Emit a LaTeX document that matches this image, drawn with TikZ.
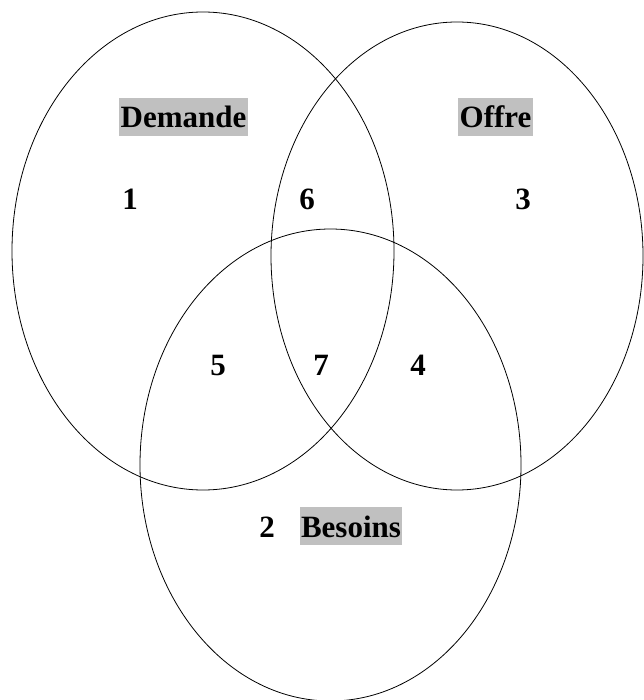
\documentclass[tikz,border=0pt]{standalone}
\usepackage{fontspec}
\setmainfont{Liberation Serif}
\definecolor{labelgray}{HTML}{C0C0C0}
\begin{document}
\begin{tikzpicture}[x=1pt,y=-1pt,
  setline/.style={draw=black,line width=0.8pt},
  setlabel/.style={fill=labelgray,inner xsep=1.5pt,inner ysep=2pt,text height=28pt,text depth=6pt,anchor=base,font=\fontsize{31}{37}\selectfont\bfseries},
  region/.style={inner sep=0pt,anchor=base,font=\fontsize{31}{37}\selectfont\bfseries}]
\useasboundingbox (0,0) rectangle (643,700);
\fill[white] (0,0) rectangle (643,700);
% sets
\draw[setline] (203,251) ellipse [x radius=191, y radius=239];
\draw[setline] (457,256) ellipse [x radius=186, y radius=234];
\draw[setline] (330.5,465) ellipse [x radius=190.5, y radius=236];
% labels
\node[setlabel] (demande) at (183.5,128) {Demande};
\node[setlabel] (offre) at (495.5,128) {Offre};
\node[setlabel] (besoins) at (351,537) {Besoins};
% regions
\node[region] (r1) at (130,210) {1};
\node[region] (r6) at (307,210) {6};
\node[region] (r3) at (523,210) {3};
\node[region] (r5) at (218,375) {5};
\node[region] (r7) at (321,375) {7};
\node[region] (r4) at (418,375) {4};
\node[region] (r2) at (267,537) {2};
\end{tikzpicture}
\end{document}
